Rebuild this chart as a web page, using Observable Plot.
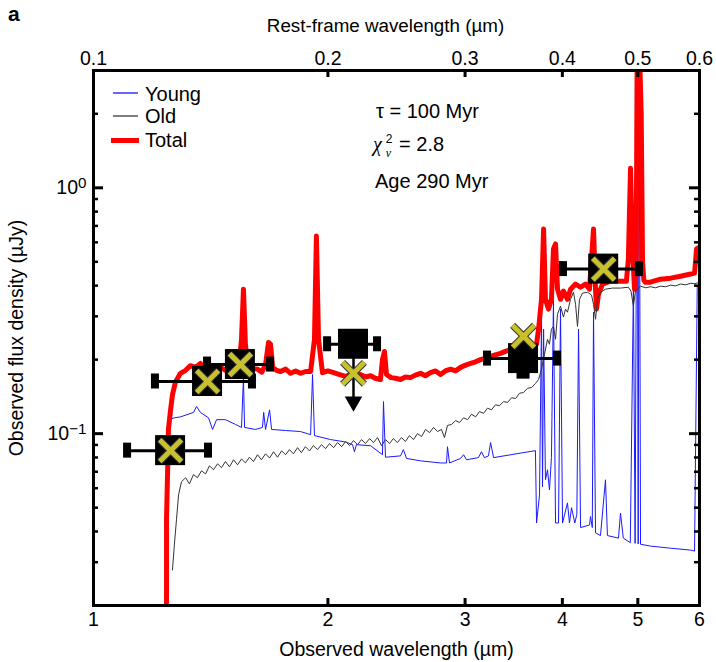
<!DOCTYPE html>
<html><head><meta charset="utf-8">
<script src="https://cdn.jsdelivr.net/npm/d3@7"></script>
<script src="https://cdn.jsdelivr.net/npm/@observablehq/plot@0.6"></script>
<style>
body{margin:0;background:#fff;font-family:"Liberation Sans",Arial,sans-serif;}
#wrap{position:relative;width:716px;height:662px;overflow:hidden;}
.ov{position:absolute;font-size:20px;color:#000;white-space:nowrap;line-height:1;}
.ln{position:absolute;}
.ss{display:inline-block;vertical-align:-0.5em;font-size:12px;line-height:1.15;text-align:left;margin-left:4px;margin-right:1px;}
.ss span{display:block;}
.mi{font-family:"Liberation Serif","DejaVu Serif",serif;font-style:italic;}
</style></head><body>
<div id="wrap">
<div id="chart"></div>
<div class="ov" style="left:8px;top:3px;font-weight:bold;font-size:21px">a</div>
<svg class="ln" style="left:112px;top:90px" width="27" height="6"><line x1="1" x2="26" y1="3" y2="3" stroke="#0000ff" stroke-width="1.2"/></svg>
<div class="ov" style="left:145px;top:84px">Young</div>
<svg class="ln" style="left:112px;top:113px" width="27" height="6"><line x1="1" x2="26" y1="3" y2="3" stroke="#555" stroke-width="1.5"/></svg>
<div class="ov" style="left:145px;top:106px">Old</div>
<div class="ln" style="left:111px;top:138px;width:28px;height:5px;background:#ff0000"></div>
<div class="ov" style="left:145px;top:130px">Total</div>
<div class="ov" style="left:376px;top:101px">τ = 100 Myr</div>
<div class="ov" style="left:373px;top:133px"><span class="mi">χ</span><span class="ss"><span>2</span><span class="mi">ν</span></span> = 2.8</div>
<div class="ov" style="left:375px;top:171px">Age 290 Myr</div>
</div>
<script>
// ---- axis ticks / labels ----
const xTicks = [1, 2, 3, 4, 5, 6];
const obsLabels = ["1", "2", "3", "4", "5", "6"];
const restLabels = ["0.1", "0.2", "0.3", "0.4", "0.5", "0.6"];
const restTitle = ["Rest-frame wavelength (µm)"];
const yMajor = [0.1, 1];
const yMajorLabels = [["10", "\u22121"], ["10", "0"]];
const yMinor = [0.02,0.03,0.04,0.05,0.06,0.07,0.08,0.09,0.2,0.3,0.4,0.5,0.6,0.7,0.8,0.9,2,3];

// ---- model spectra: [observed wavelength (µm), flux (µJy)] ----
const young = [
[1.243,0.020],[1.248,0.114],[1.270,0.116],[1.293,0.117],[1.344,0.122],[1.356,0.129],[1.372,0.122],
[1.405,0.116],[1.422,0.104],[1.439,0.114],[1.477,0.114],[1.522,0.109],[1.549,0.106],[1.558,0.169],
[1.563,0.106],[1.614,0.104],[1.648,0.106],[1.654,0.122],[1.663,0.104],[1.683,0.125],[1.693,0.104],
[1.765,0.103],[1.844,0.102],[1.900,0.0991],[1.911,0.174],[1.922,0.0982],[2.016,0.0946],[2.107,0.0925],
[2.151,0.0902],[2.163,0.0844],[2.176,0.0902],[2.269,0.0893],[2.350,0.0821],[2.357,0.135],[2.371,0.0802],
[2.479,0.0812],[2.500,0.0861],[2.523,0.0793],[2.630,0.0775],[2.790,0.0760],[2.840,0.0760],[2.848,0.0885],
[2.865,0.0760],[2.960,0.0793],[2.987,0.0821],[3.013,0.0783],[3.121,0.0799],[3.149,0.0844],[3.177,0.0799],
[3.215,0.0812],[3.235,0.0920],[3.264,0.0799],[3.694,0.0853],[3.706,0.0433],[3.739,0.0564],[3.761,0.300],
[3.772,0.0608],[3.784,0.266],[3.805,0.0649],[3.828,0.0713],[3.850,0.0591],[3.873,0.0800],[3.896,0.352],
[3.920,0.0433],[3.955,0.0433],[3.978,0.321],[4.002,0.0433],[4.061,0.0523],[4.085,0.0433],[4.110,0.0500],
[4.150,0.0433],[4.175,0.0470],[4.196,0.266],[4.221,0.0415],[4.334,0.0425],[4.347,0.0460],[4.370,0.0415],
[4.386,0.312],[4.412,0.0395],[4.477,0.0385],[4.544,0.0649],[4.570,0.0385],[4.722,0.0376],[4.750,0.0475],
[4.790,0.0376],[4.890,0.0360],[4.935,0.400],[4.960,0.0358],[4.990,3.5],[5.005,0.0356],[5.020,3.5],
[5.040,0.0355],[5.190,0.0349],[5.508,0.0342],[5.844,0.0336],[5.913,0.0333],[5.960,0.40],[6.0,0.40]
];
const old = [
[1.263,0.0279],[1.270,0.0352],[1.278,0.0446],[1.286,0.0564],[1.297,0.0637],[1.313,0.0662],[1.328,0.0625],
[1.344,0.0682],[1.360,0.0662],[1.376,0.0706],[1.393,0.0686],[1.409,0.0740],[1.426,0.0713],[1.443,0.0754],
[1.460,0.0727],[1.477,0.0770],[1.495,0.0733],[1.513,0.0783],[1.531,0.0747],[1.549,0.0789],[1.567,0.0761],
[1.586,0.0802],[1.605,0.0770],[1.624,0.0821],[1.643,0.0783],[1.663,0.0828],[1.683,0.0796],[1.703,0.0844],
[1.723,0.0802],[1.744,0.0851],[1.765,0.0821],[1.785,0.0861],[1.806,0.0828],[1.828,0.0877],[1.849,0.0837],
[1.871,0.0885],[1.894,0.0851],[1.916,0.0894],[1.939,0.0861],[1.962,0.0902],[1.986,0.0869],[2.009,0.0911],
[2.034,0.0877],[2.058,0.0920],[2.083,0.0885],[2.107,0.0929],[2.132,0.0894],[2.157,0.0937],[2.183,0.0902],
[2.209,0.0946],[2.235,0.0911],[2.262,0.0955],[2.288,0.0920],[2.316,0.0964],[2.343,0.0894],[2.371,0.0946],
[2.399,0.0911],[2.427,0.0955],[2.456,0.0920],[2.486,0.0964],[2.515,0.0929],[2.545,0.0982],[2.576,0.0946],
[2.606,0.1000],[2.638,0.0973],[2.669,0.104],[2.701,0.101],[2.733,0.106],[2.765,0.102],[2.798,0.104],
[2.823,0.0964],[2.848,0.108],[2.882,0.109],[2.917,0.113],[2.951,0.111],[2.987,0.116],[3.022,0.114],
[3.058,0.120],[3.095,0.117],[3.131,0.123],[3.169,0.121],[3.206,0.127],[3.243,0.125],[3.282,0.131],
[3.321,0.130],[3.362,0.135],[3.402,0.134],[3.442,0.140],[3.484,0.139],[3.524,0.146],[3.566,0.147],
[3.609,0.153],[3.652,0.154],[3.694,0.160],[3.728,0.166],[3.761,0.183],[3.794,0.210],[3.828,0.242],
[3.850,0.231],[3.873,0.266],[3.896,0.273],[3.920,0.242],[3.943,0.306],[3.978,0.330],[4.013,0.298],
[4.037,0.321],[4.061,0.312],[4.098,0.352],[4.134,0.376],[4.159,0.336],[4.183,0.273],[4.208,0.352],
[4.246,0.373],[4.309,0.376],[4.360,0.366],[4.386,0.336],[4.412,0.292],[4.438,0.352],[4.477,0.376],
[4.544,0.387],[4.639,0.391],[4.750,0.391],[4.862,0.394],[4.900,0.380],[4.935,0.330],[4.965,0.380],
[5.039,0.398],[5.120,0.392],[5.190,0.396],[5.270,0.392],[5.346,0.398],[5.430,0.396],[5.508,0.402],
[5.590,0.399],[5.673,0.406],[5.760,0.403],[5.844,0.409],[5.920,0.407],[6.0,0.413]
];
const total = [
[1.241,0.020],[1.241,0.045],[1.245,0.071],[1.248,0.104],[1.256,0.125],[1.263,0.144],[1.274,0.162],
[1.293,0.176],[1.313,0.181],[1.332,0.189],[1.352,0.186],[1.372,0.193],[1.392,0.184],[1.413,0.183],
[1.435,0.189],[1.456,0.186],[1.478,0.181],[1.500,0.179],[1.520,0.185],[1.536,0.183],[1.549,0.242],
[1.558,0.387],[1.567,0.231],[1.581,0.179],[1.603,0.184],[1.624,0.183],[1.645,0.178],[1.663,0.191],
[1.678,0.235],[1.688,0.231],[1.698,0.186],[1.718,0.181],[1.739,0.179],[1.765,0.183],[1.791,0.176],
[1.818,0.180],[1.844,0.176],[1.872,0.179],[1.900,0.179],[1.922,0.242],[1.933,0.637],[1.945,0.242],
[1.968,0.177],[2.000,0.180],[2.034,0.177],[2.070,0.174],[2.107,0.171],[2.150,0.175],[2.202,0.174],
[2.235,0.170],[2.269,0.172],[2.300,0.168],[2.336,0.166],[2.350,0.200],[2.364,0.216],[2.378,0.174],
[2.410,0.169],[2.442,0.168],[2.479,0.166],[2.515,0.170],[2.553,0.169],[2.590,0.173],[2.630,0.176],
[2.668,0.172],[2.708,0.177],[2.750,0.180],[2.790,0.174],[2.830,0.180],[2.874,0.183],[2.917,0.180],
[2.960,0.186],[3.005,0.190],[3.049,0.193],[3.095,0.196],[3.140,0.200],[3.190,0.203],[3.235,0.206],
[3.280,0.209],[3.332,0.212],[3.380,0.216],[3.431,0.220],[3.480,0.218],[3.535,0.220],[3.590,0.224],
[3.640,0.226],[3.706,0.231],[3.728,0.266],[3.761,0.352],[3.784,0.680],[3.805,0.352],[3.839,0.321],
[3.873,0.352],[3.896,0.564],[3.920,0.591],[3.943,0.387],[3.978,0.352],[4.013,0.380],[4.061,0.352],
[4.098,0.387],[4.159,0.406],[4.221,0.394],[4.283,0.406],[4.334,0.387],[4.360,0.513],[4.386,0.680],
[4.412,0.387],[4.425,0.321],[4.451,0.369],[4.504,0.406],[4.611,0.417],[4.750,0.417],[4.834,0.417],
[4.862,0.513],[4.893,1.20],[4.922,0.564],[4.951,0.387],[4.975,0.45],[4.990,3.5],[5.005,1.5],
[5.020,4.0],[5.050,2.0],[5.070,0.50],[5.090,0.42],[5.114,0.413],[5.190,0.413],[5.346,0.425],
[5.508,0.429],[5.673,0.437],[5.844,0.446],[5.913,0.450],[5.948,0.564],[6.0,0.574]
];

// ---- photometry ----
const photWave   = [1.256, 1.401, 1.544, 2.157, 3.566, 4.52];
const photFlux   = [0.0853, 0.163, 0.191, 0.231, 0.202, 0.467];
const photWaveLo = [1.106, 1.201, 1.401, 1.998, 3.206, 4.013];
const photWaveHi = [1.405, 1.600, 1.688, 2.316, 3.943, 5.024];
const modelFlux  = [0.0853, 0.163, 0.191, 0.176, 0.249, 0.467];
const photFluxLo = [null, null, null, null, 0.173, null];
const photFluxHi = [null, null, null, null, 0.233, null];
const isUpperLimit = [false, false, false, true, false, false];
const limitArrowEnd = 0.14;
const limitArrowTip = 0.135;

const phot = photWave.map((w, i) => ({w, f: photFlux[i], lo: photWaveLo[i], hi: photWaveHi[i],
  m: modelFlux[i], flo: photFluxLo[i], fhi: photFluxHi[i], ul: isUpperLimit[i]}));
const caps = phot.flatMap(p => [{w: p.lo, f: p.f}, {w: p.hi, f: p.f}]);
const vErr = phot.filter(p => p.flo != null);
const vCaps = vErr.flatMap(p => [{w: p.w, f: p.flo}, {w: p.w, f: p.fhi}]);
const limits = phot.filter(p => p.ul);

const W = 716, H = 662, mL = 93, mR = 17, mT = 70, mB = 57;
const innerW = W - mL - mR, innerH = H - mT - mB;
const X = d => d[0], Y = d => d[1];
const yellow = "#c9c12b";

const chart = Plot.plot({
  width: W, height: H,
  marginLeft: mL, marginRight: mR, marginTop: mT, marginBottom: mB,
  style: {fontFamily: "'Liberation Sans', Arial, sans-serif", fontSize: "19.5px", color: "#000", background: "#fff", overflow: "visible"},
  x: {type: "log", domain: [1, 6]},
  y: {type: "log", domain: [0.02, 3]},
  marks: [
    Plot.line(young, {x: X, y: Y, stroke: "#1a1aff", strokeWidth: 1, clip: true}),
    Plot.line(total, {x: X, y: Y, stroke: "#ff0000", strokeWidth: 5, clip: true}),
    Plot.line(old, {x: X, y: Y, stroke: "#333333", strokeWidth: 1, clip: true}),
    Plot.ruleY(phot, {y: "f", x1: "lo", x2: "hi", stroke: "black", strokeWidth: 3}),
    Plot.ruleX(vErr, {x: "w", y1: "flo", y2: "fhi", stroke: "black", strokeWidth: 3}),
    Plot.rect(caps, {x1: "w", x2: "w", y1: "f", y2: "f", insetLeft: -4, insetRight: -4, insetTop: -7.5, insetBottom: -7.5, fill: "black"}),
    Plot.rect(vCaps, {x1: "w", x2: "w", y1: "f", y2: "f", insetLeft: -6.5, insetRight: -6.5, insetTop: -4, insetBottom: -4, fill: "black"}),
    Plot.rect(phot, {x1: "w", x2: "w", y1: "f", y2: "f", insetLeft: -15, insetRight: -15, insetTop: -15, insetBottom: -15, fill: "black"}),
    Plot.link(limits, {x1: "w", x2: "w", y1: "f", y2: () => limitArrowEnd, stroke: "black", strokeWidth: 2.5}),
    Plot.dot(limits, {x: "w", y: () => limitArrowTip, symbol: "triangle", r: 6.5, fill: "black", stroke: "none", rotate: 180}),
    Plot.dot(phot, {x: "w", y: "m", symbol: "times", r: 10, stroke: "#333", strokeWidth: 7, strokeLinecap: "butt"}),
    Plot.dot(phot, {x: "w", y: "m", symbol: "times", r: 10, stroke: yellow, strokeWidth: 5, strokeLinecap: "butt"}),
    Plot.tickX(xTicks, {x: d => d, insetTop: innerH - 7, strokeWidth: 3, stroke: "black"}),
    Plot.tickX(xTicks, {x: d => d, insetBottom: innerH - 7, strokeWidth: 3, stroke: "black"}),
    Plot.tickY(yMajor, {y: d => d, insetRight: innerW - 10, strokeWidth: 3, stroke: "black"}),
    Plot.tickY(yMajor, {y: d => d, insetLeft: innerW - 10, strokeWidth: 3, stroke: "black"}),
    Plot.tickY(yMinor, {y: d => d, insetRight: innerW - 5, strokeWidth: 2.5, stroke: "black"}),
    Plot.tickY(yMinor, {y: d => d, insetLeft: innerW - 5, strokeWidth: 2.5, stroke: "black"}),
    Plot.frame({stroke: "black", strokeWidth: 3}),
    Plot.axisX({anchor: "bottom", ticks: xTicks, tickSize: 0, tickPadding: 7,
      tickFormat: d => obsLabels[xTicks.indexOf(d)],
      label: "Observed wavelength (µm)", labelAnchor: "center", labelArrow: "none", labelOffset: 50}),
    Plot.axisX({anchor: "top", ticks: xTicks, tickSize: 0, tickPadding: 6,
      tickFormat: d => restLabels[xTicks.indexOf(d)], label: null}),
    Plot.text(restTitle, {text: d => d, frameAnchor: "top", dy: -52, dx: -11, fontSize: 18.8, fill: "black"}),
    Plot.axisY({anchor: "left", ticks: yMajor, tickSize: 0, tickPadding: 7,
      tickFormat: d => yMajorLabels[yMajor.indexOf(d)].join("^"),
      label: "Observed flux density (µJy)", labelAnchor: "center", labelArrow: "none", labelOffset: 84})
  ]
});
document.getElementById("chart").appendChild(chart);

// superscript exponents on y tick labels
const NS = "http://www.w3.org/2000/svg";
chart.querySelectorAll('[aria-label="y-axis tick label"] text').forEach(t => {
  const parts = t.textContent.split("^");
  if (parts.length !== 2) return;
  t.textContent = parts[0];
  const s = document.createElementNS(NS, "tspan");
  s.setAttribute("dy", "-0.42em");
  s.setAttribute("font-size", "0.78em");
  s.textContent = parts[1];
  t.appendChild(s);
});
</script>
</body></html>
